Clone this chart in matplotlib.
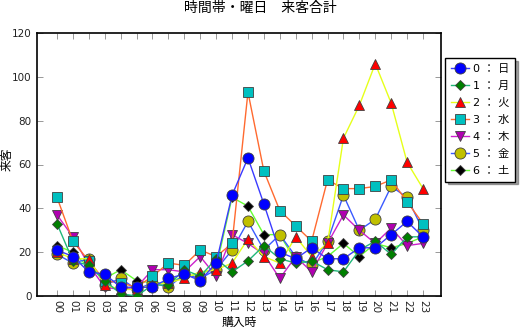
import matplotlib
matplotlib.use("Agg")
import matplotlib.pyplot as plt

plt.rcParams['font.family'] = ['DejaVu Sans', 'Noto Sans CJK JP']

hours = ['00', '01', '02', '03', '04', '05', '06', '07', '08', '09', '10', '11',
         '12', '13', '14', '15', '16', '17', '18', '19', '20', '21', '22', '23']

# visitors per hour, one list per weekday
sun = [21, 18, 11, 10, 4, 4, 4, 8, 10, 7, 15, 46, 63, 42, 20, 17, 22, 17, 17, 22, 22, 28, 34, 27]
mon = [33, 16, 14, 7, 1, 0, 5, 5, 12, 9, 17, 11, 16, 23, 17, 15, 16, 12, 11, 21, 25, 19, 27, 27]
tue = [20, 17, 17, 5, 3, 3, 5, 6, 8, 11, 12, 15, 26, 18, 15, 27, 18, 24, 72, 87, 106, 88, 61, 49]
wed = [45, 25, 16, 7, 6, 4, 9, 15, 14, 21, 18, 24, 93, 57, 39, 32, 25, 53, 49, 49, 50, 53, 43, 33]
thu = [37, 27, 14, 4, 3, 4, 12, 12, 11, 18, 9, 28, 24, 19, 8, 18, 11, 24, 37, 30, 24, 31, 23, 24]
fri = [19, 15, 17, 5, 8, 3, 6, 4, 10, 8, 12, 21, 34, 21, 28, 18, 14, 25, 46, 30, 35, 50, 45, 30]
sat = [23, 20, 13, 8, 12, 7, 6, 6, 9, 10, 13, 45, 41, 28, 28, 16, 15, 18, 24, 18, 24, 22, 24, 27]

labels = ['0 ： 日', '1 ： 月', '2 ： 火', '3 ： 水', '4 ： 木', '5 ： 金', '6 ： 土']
values = [sun, mon, tue, wed, thu, fri, sat]

line_colors = ['#3a3aff', '#20b87a', '#e6ff1a', '#ff6a30', '#cc22cc', '#3a5aff', '#66ff33']
marker_faces = ['#0000ff', '#008000', '#ff0000', '#00c0c0', '#b000b0', '#c0c000', '#000000']
markers = ['o', 'D', '^', 's', 'v', 'o', 'D']
sizes = [8, 5.5, 7.5, 7, 7.5, 8, 5.5]

fig = plt.figure(figsize=(5.2, 3.32), dpi=100)
ax = fig.add_axes([37 / 520, 36 / 332, 404 / 520, 263 / 332])

x = list(range(len(hours)))
handles = []
for i in range(len(values)):
    h, = ax.plot(x, values[i], color=line_colors[i], lw=1.0,
                 marker=markers[i], ms=sizes[i], mfc=marker_faces[i],
                 mec='#404040', mew=0.6, zorder=10 - i, label=labels[i])
    handles.append(h)

ax.set_xlim(-1.257, 24.13)
ax.set_ylim(0, 120)
ax.set_xticks(x)
ax.set_xticklabels(hours, rotation=-90)
ax.set_yticks(range(0, 121, 20))
ax.tick_params(axis='x', direction='in', top=True, length=4, width=0.6,
               labelsize=7.5, colors='#888888', labelcolor='#222222', pad=3)
ax.tick_params(axis='y', direction='in', right=True, length=4, width=0.6,
               labelsize=7.5, colors='#888888', labelcolor='#222222', pad=4)
for sp in ax.spines.values():
    sp.set_linewidth(1.2)
    sp.set_color('black')

ax.set_xlabel('購入時', fontsize=8.5)
ax.xaxis.set_label_coords(0.5, -0.076)
ax.set_ylabel('来客', fontsize=8.5)
ax.yaxis.set_label_coords(-0.058, 0.52)

fig.text(0.5, 0.997, '時間帯・曜日　来客合計', ha='center', va='top', fontsize=10)

leg = fig.legend(handles=handles, loc='upper left',
                 bbox_to_anchor=(445 / 520, 1 - 58 / 332),
                 fontsize=8, frameon=True, fancybox=False, shadow=True,
                 handlelength=1.6, handletextpad=0.35, labelspacing=0.62,
                 borderpad=0.55, borderaxespad=0)
leg.get_frame().set_edgecolor('black')
leg.get_frame().set_linewidth(1.0)

fig.savefig('out.png', dpi=100)
